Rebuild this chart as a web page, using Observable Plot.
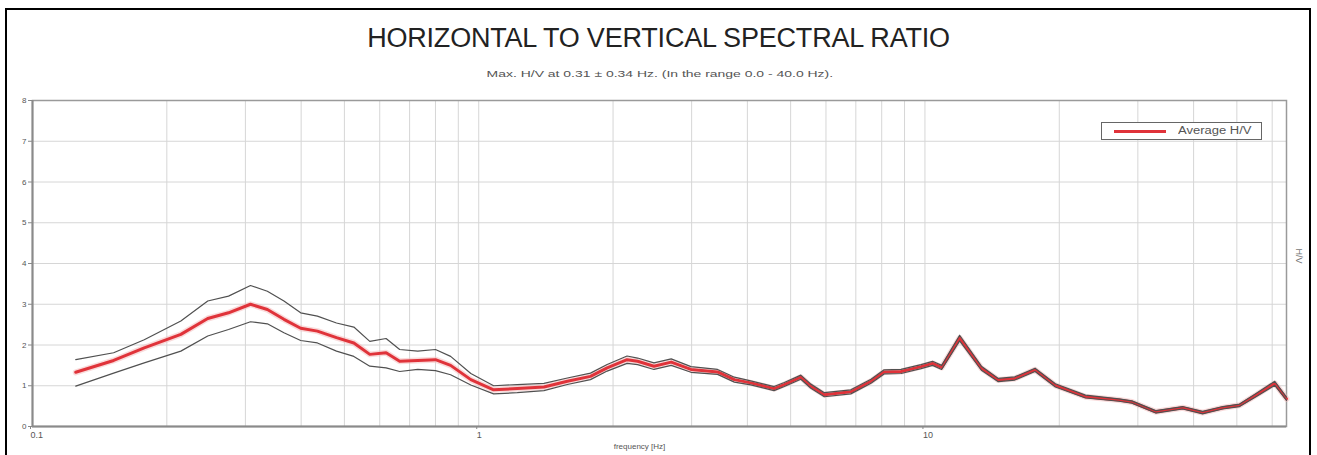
<!DOCTYPE html>
<html>
<head>
<meta charset="utf-8">
<script src="https://cdn.jsdelivr.net/npm/d3@7"></script>
<script src="https://cdn.jsdelivr.net/npm/@observablehq/plot@0.6"></script>
<style>
  html, body { margin: 0; padding: 0; background: #fff; overflow: hidden; }
  #wrap { position: relative; width: 1317px; height: 455px; font-family: "Liberation Sans", Arial, sans-serif; }
  #frame { position: absolute; left: 5px; top: 8px; width: 1306px; height: 470px; border: 2px solid #000; box-sizing: border-box; pointer-events: none; }
  #title { position: absolute; left: 0; width: 1317px; top: 23px; text-align: center; font-size: 27px; color: #222; letter-spacing: -0.2px; }
  #subtitle { position: absolute; left: 0; width: 1317px; top: 69px; text-align: center; font-size: 9px; color: #555; transform: scaleX(1.55); transform-origin: 656px 0; }
  #chart { position: absolute; left: 0; top: 0; }
  #legend { position: absolute; left: 1101px; top: 122px; width: 161px; height: 18px; border: 1px solid #666; box-sizing: border-box; background: #fff; font-size: 10px; color: #555; }
  #legend .sw { position: absolute; left: 12px; top: 7px; width: 52px; height: 3px; background: #e0333a; }
  #legend .lb { position: absolute; left: 76px; top: 2px; transform: scaleX(1.3); transform-origin: 0 0; white-space: nowrap; }
</style>
</head>
<body>
<div id="wrap">
  <div id="chart"></div>
  <div id="title">HORIZONTAL TO VERTICAL SPECTRAL RATIO</div>
  <div id="subtitle">Max. H/V at 0.31 ± 0.34 Hz. (In the range 0.0 - 40.0 Hz).</div>
  <div id="legend"><div class="sw"></div><div class="lb">Average H/V</div></div>
  <div id="frame"></div>
</div>
<script>
const freq = [0.125, 0.152, 0.178, 0.215, 0.247, 0.275, 0.308, 0.336, 0.366, 0.399, 0.435, 0.48, 0.525, 0.57, 0.62, 0.665, 0.73, 0.80, 0.865, 0.96, 1.08, 1.22, 1.40, 1.58, 1.78, 1.94, 2.15, 2.27, 2.47, 2.70, 2.99, 3.43, 3.74, 4.07, 4.59, 4.84, 5.27, 5.55, 5.95, 6.82, 7.57, 8.1, 8.84, 9.8, 10.4, 10.9, 11.96, 13.38, 14.6, 15.9, 17.65, 19.6, 22.9, 27.2, 29.1, 32.9, 37.8, 41.9, 46.5, 50.7, 55.2, 60.8, 64.6];
const meanHV = [1.33, 1.62, 1.93, 2.26, 2.65, 2.79, 3.00, 2.87, 2.63, 2.41, 2.34, 2.18, 2.05, 1.77, 1.81, 1.60, 1.62, 1.64, 1.50, 1.15, 0.90, 0.93, 0.97, 1.11, 1.23, 1.44, 1.64, 1.60, 1.48, 1.58, 1.40, 1.34, 1.15, 1.07, 0.93, 1.03, 1.21, 0.99, 0.78, 0.85, 1.11, 1.34, 1.35, 1.47, 1.55, 1.45, 2.17, 1.43, 1.14, 1.18, 1.39, 1.01, 0.73, 0.65, 0.60, 0.36, 0.46, 0.34, 0.46, 0.52, 0.77, 1.06, 0.68];
const upperHV = [1.64, 1.81, 2.13, 2.59, 3.08, 3.20, 3.46, 3.32, 3.08, 2.79, 2.71, 2.54, 2.44, 2.09, 2.16, 1.89, 1.85, 1.89, 1.72, 1.30, 1.00, 1.03, 1.06, 1.19, 1.31, 1.52, 1.73, 1.68, 1.56, 1.66, 1.47, 1.40, 1.21, 1.12, 0.98, 1.08, 1.26, 1.04, 0.83, 0.90, 1.16, 1.39, 1.40, 1.52, 1.60, 1.50, 2.24, 1.48, 1.18, 1.22, 1.43, 1.05, 0.77, 0.68, 0.63, 0.39, 0.49, 0.37, 0.49, 0.55, 0.81, 1.11, 0.72];
const lowerHV = [0.99, 1.31, 1.56, 1.85, 2.22, 2.38, 2.57, 2.52, 2.30, 2.11, 2.05, 1.85, 1.72, 1.48, 1.44, 1.35, 1.40, 1.37, 1.27, 1.02, 0.80, 0.83, 0.88, 1.03, 1.15, 1.36, 1.55, 1.52, 1.40, 1.50, 1.33, 1.28, 1.09, 1.02, 0.88, 0.98, 1.16, 0.94, 0.73, 0.80, 1.06, 1.29, 1.30, 1.42, 1.50, 1.40, 2.10, 1.38, 1.10, 1.14, 1.35, 0.97, 0.70, 0.62, 0.57, 0.33, 0.43, 0.31, 0.43, 0.49, 0.73, 1.01, 0.64];
const xTickLabels = [0.1, 1, 10];
const xGridValues = [0.2, 0.3, 0.4, 0.5, 0.6, 0.7, 0.8, 0.9, 1, 2, 3, 4, 5, 6, 7, 8, 9, 10, 20, 30, 40, 50, 60];
const yTickLabels = [0, 1, 2, 3, 4, 5, 6, 7, 8];
const yGridValues = [1, 2, 3, 4, 5, 6, 7];

const rows = freq.map((f, i) => ({f, mean: meanHV[i], up: upperHV[i], lo: lowerHV[i]}));

const chart = Plot.plot({
  width: 1317,
  height: 455,
  marginLeft: 32,
  marginRight: 31,
  marginTop: 100,
  marginBottom: 29,
  style: {fontFamily: "Liberation Sans, Arial, sans-serif", background: "transparent"},
  x: {type: "log", domain: [0.1, 64.6]},
  y: {domain: [0, 8]},
  marks: [
    Plot.gridX(xGridValues, {stroke: "#d6d6d6", strokeOpacity: 1, strokeWidth: 1}),
    Plot.gridY(yGridValues, {stroke: "#d6d6d6", strokeOpacity: 1, strokeWidth: 1}),
    Plot.frame({stroke: "#9a9a9a", strokeWidth: 1.5}),
    Plot.ruleX([0.1], {stroke: "#8a8a8a", strokeWidth: 2}),
    Plot.ruleY([0], {stroke: "#8a8a8a", strokeWidth: 2}),
    Plot.line(rows, {x: "f", y: "mean", stroke: "#f4b8b8", strokeWidth: 6, strokeOpacity: 0.5}),
    Plot.line(rows, {x: "f", y: "mean", stroke: "#e0333a", strokeWidth: 3}),
    Plot.line(rows, {x: "f", y: "up", stroke: "#505050", strokeWidth: 1.2}),
    Plot.line(rows, {x: "f", y: "lo", stroke: "#505050", strokeWidth: 1.2}),
    Plot.axisX(xTickLabels, {tickSize: 3, tickPadding: 2, fontSize: 9, fill: "#555", stroke: "#888", tickFormat: d => String(d), label: null, textAnchor: "start", dx: -2}),
    Plot.axisY(yTickLabels, {tickSize: 4, tickPadding: 2, fontSize: 8, fill: "#555", stroke: "#888", label: null}),
    Plot.text(["frequency [Hz]"], {frameAnchor: "bottom", dy: 22, dx: -20, fontSize: 8, fill: "#555"}),
    Plot.text(["H/V"], {frameAnchor: "right", dx: 12, rotate: 90, fontSize: 9, fill: "#777"})
  ]
});
document.getElementById("chart").appendChild(chart);
</script>
</body>
</html>
